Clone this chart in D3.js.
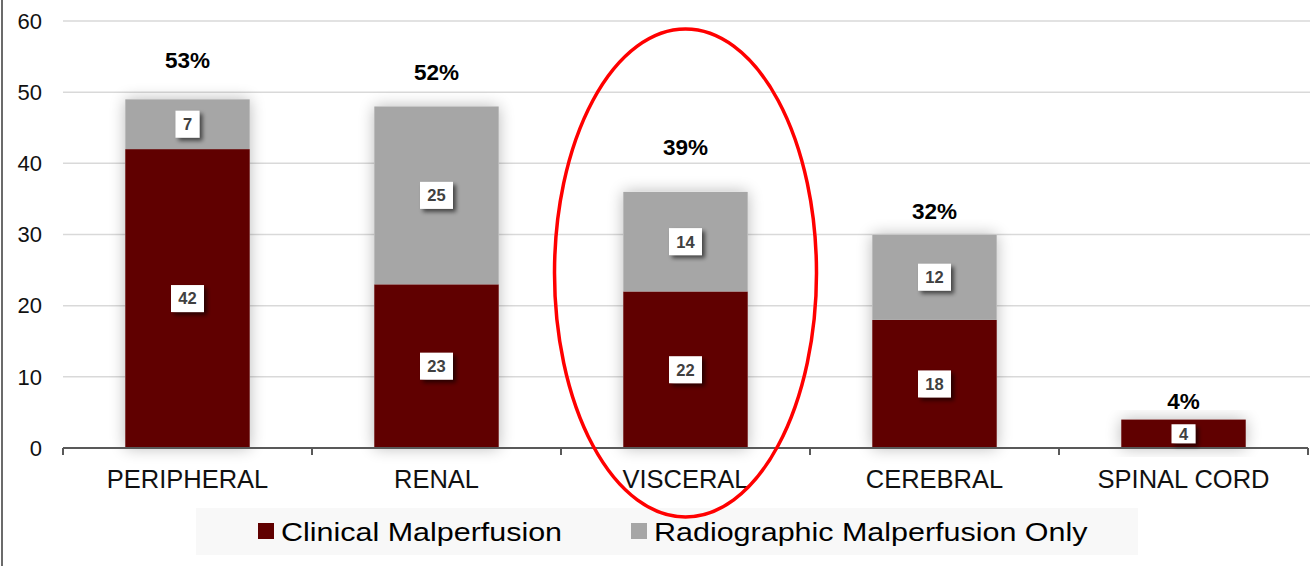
<!DOCTYPE html>
<html>
<head>
<meta charset="utf-8">
<script src="https://cdn.jsdelivr.net/npm/d3@7"></script>
<style>
  html, body { margin:0; padding:0; background:#fff; }
  svg { display:block; font-family: Arial, "Liberation Sans", sans-serif; }
</style>
</head>
<body>
<div id="chart"></div>
<script>
// malperfusion by territory — stacked bars

const categories = ['PERIPHERAL', 'RENAL', 'VISCERAL', 'CEREBRAL', 'SPINAL CORD'];
const clinical = [42, 23, 22, 18, 4];
const radiographic = [7, 25, 14, 12, 0];
const pctLabels = ['53%', '52%', '39%', '32%', '4%'];
const pctLabelAt = [54.5, 52.8, 42.3, 33.3, 6.6]; // where the % labels sit, in axis units
const yTicks = [0, 10, 20, 30, 40, 50, 60];
const seriesNames = ['Clinical Malperfusion', 'Radiographic Malperfusion Only'];
const highlight = 'VISCERAL';

const W = 1310, H = 566;
const colors = { clinical: '#600000', radio: '#a6a6a6' };

const svg = d3.select('#chart').append('svg').attr('width', W).attr('height', H);

const defs = svg.append('defs');
const glow = defs.append('filter').attr('id','glow').attr('x','-30%').attr('y','-30%').attr('width','160%').attr('height','160%');
glow.append('feGaussianBlur').attr('in','SourceAlpha').attr('stdDeviation',8).attr('result','b');
glow.append('feComponentTransfer').attr('in','b').attr('result','b2')
  .append('feFuncA').attr('type','linear').attr('slope',0.28);
const gm = glow.append('feMerge');
gm.append('feMergeNode').attr('in','b2');
gm.append('feMergeNode').attr('in','SourceGraphic');

const shadow = defs.append('filter').attr('id','lblshadow').attr('x','-40%').attr('y','-40%').attr('width','200%').attr('height','200%');
shadow.append('feGaussianBlur').attr('in','SourceAlpha').attr('stdDeviation',2.2).attr('result','b');
shadow.append('feOffset').attr('in','b').attr('dx',3).attr('dy',3).attr('result','o');
shadow.append('feComponentTransfer').attr('in','o').attr('result','o2')
  .append('feFuncA').attr('type','linear').attr('slope',0.6);
const sm = shadow.append('feMerge');
sm.append('feMergeNode').attr('in','o2');
sm.append('feMergeNode').attr('in','SourceGraphic');

// left frame line
svg.append('line').attr('x1',2).attr('x2',2).attr('y1',0).attr('y2',H)
  .attr('stroke','#3a3a3a').attr('stroke-width',1.5);

const x = d3.scaleBand().domain(categories).range([63, 1308]).paddingInner(0.5).paddingOuter(0.25);
const y = d3.scaleLinear().domain([0, 60]).range([448, 21]);

// gridlines
svg.append('g').selectAll('line').data(yTicks.filter(d => d > 0)).join('line')
  .attr('x1', 63).attr('x2', W).attr('y1', d => y(d)).attr('y2', d => y(d))
  .attr('stroke', '#d9d9d9').attr('stroke-width', 1.5);

// y labels
svg.append('g').selectAll('text').data(yTicks).join('text')
  .attr('x', 42).attr('y', d => y(d)).attr('dy','0.35em').attr('text-anchor','end')
  .attr('font-size', 22).attr('fill','#111').text(d => d);

// stacked data
const rows = categories.map((c, i) => ({ cat: c, clinical: clinical[i], radio: radiographic[i] }));
const stack = d3.stack().keys(['clinical', 'radio'])(rows);

const barG = svg.append('g');
barG.selectAll('rect.shadow').data(rows).join('rect').attr('class','shadow')
  .attr('x', d => x(d.cat)).attr('width', x.bandwidth())
  .attr('y', d => y(d.clinical + d.radio)).attr('height', d => y(0) - y(d.clinical + d.radio))
  .attr('fill', '#fff').attr('filter','url(#glow)');

stack.forEach(layer => {
  barG.append('g').attr('fill', layer.key === 'clinical' ? colors.clinical : colors.radio)
    .selectAll('rect').data(layer.filter(d => d[1] > d[0])).join('rect')
    .attr('x', d => x(d.data.cat)).attr('width', x.bandwidth())
    .attr('y', d => y(d[1])).attr('height', d => y(d[0]) - y(d[1]));
});

// x axis
const axisY = y(0);
const xa = svg.append('g');
xa.append('line').attr('x1', 63).attr('x2', 1308).attr('y1', axisY).attr('y2', axisY)
  .attr('stroke', '#595959').attr('stroke-width', 2);
const step = x.step();
const bounds = d3.range(categories.length + 1).map(i => 63 + i * step);
xa.selectAll('line.tick').data(bounds).join('line').attr('class','tick')
  .attr('x1', d => d).attr('x2', d => d).attr('y1', axisY).attr('y2', axisY + 7)
  .attr('stroke', '#595959').attr('stroke-width', 2);
xa.selectAll('text').data(categories).join('text')
  .attr('x', d => x(d) + x.bandwidth() / 2).attr('y', 488).attr('text-anchor','middle')
  .attr('font-size', 25.5).attr('fill','#111').text(d => d);

// segment value labels
const lblG = svg.append('g');
stack.forEach(layer => {
  layer.filter(d => d[1] > d[0]).forEach(d => {
    const v = d[1] - d[0];
    const cx = x(d.data.cat) + x.bandwidth() / 2;
    const cy = y((d[0] + d[1]) / 2);
    const txt = String(v);
    const bw = txt.length > 1 ? 33 : 24;
    const bh = v < 6 ? 19 : 27;
    const g = lblG.append('g');
    g.append('rect').attr('x', cx - bw / 2).attr('y', cy - bh / 2).attr('width', bw).attr('height', bh)
      .attr('fill', '#fff').attr('filter','url(#lblshadow)');
    g.append('text').attr('x', cx).attr('y', cy).attr('dy','0.36em').attr('text-anchor','middle')
      .attr('font-size', 16.5).attr('font-weight','bold').attr('fill','#404040').text(txt);
  });
});

// percent labels
svg.append('g').selectAll('text').data(categories).join('text')
  .attr('x', d => x(d) + x.bandwidth() / 2).attr('y', (d, i) => y(pctLabelAt[i])).attr('dy','0.35em')
  .attr('text-anchor','middle').attr('font-size', 22.5).attr('font-weight','bold').attr('fill','#000')
  .text((d, i) => pctLabels[i]);

// legend
const lg = svg.append('g');
lg.append('rect').attr('x', 196).attr('y', 508).attr('width', 942).attr('height', 47).attr('fill', '#f8f8f8');
const items = [
  { name: seriesNames[0], color: colors.clinical, x: 258 },
  { name: seriesNames[1], color: colors.radio, x: 631 }
];
items.forEach(it => {
  lg.append('rect').attr('x', it.x).attr('y', 523).attr('width', 16).attr('height', 16).attr('fill', it.color);
  lg.append('text').attr('transform', `translate(${it.x + 23},531) scale(1.15,1)`).attr('dy','0.36em')
    .attr('font-size', 26.5).attr('fill','#000').text(it.name);
});

// highlight ellipse around visceral
svg.append('ellipse')
  .attr('cx', x(highlight) + x.bandwidth() / 2).attr('cy', 273)
  .attr('rx', 131).attr('ry', 244)
  .attr('fill','none').attr('stroke','#ff0000').attr('stroke-width', 3.5);
</script>
</body>
</html>
